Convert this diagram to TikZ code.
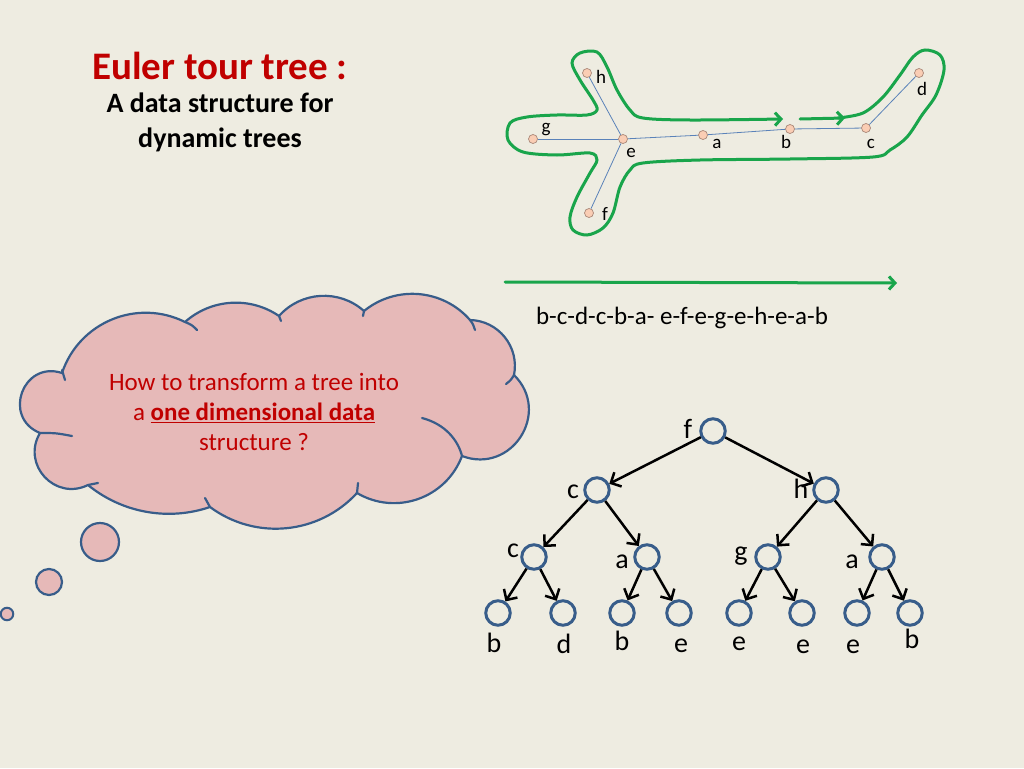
\documentclass[tikz,border=0pt]{standalone}
\usepackage{fontspec}
\setmainfont{Carlito}
\usetikzlibrary{arrows.meta, positioning, calc}
\definecolor{slidebg}{RGB}{238,236,225}
\definecolor{titlered}{RGB}{192,0,0}
\definecolor{tourgreen}{RGB}{25,165,75}
\definecolor{vertexfill}{RGB}{250,205,180}
\definecolor{vertexline}{RGB}{170,135,120}
\definecolor{edgeblue}{RGB}{90,130,185}
\definecolor{cloudpink}{RGB}{230,185,184}
\definecolor{darkblue}{RGB}{56,93,138}
\tikzstyle{vertex} = [circle, draw=vertexline, fill=vertexfill, minimum size=9pt, inner sep=0pt, line width=0.7pt]
\tikzstyle{vlbl} = [inner sep=0pt, anchor=base, font=\fontsize{19}{22}\selectfont]
\tikzstyle{treeedge} = [draw=edgeblue, line width=0.8pt]
\tikzstyle{tour} = [draw=tourgreen, line width=3pt, line cap=round, -{Straight Barb[length=6pt, width=13pt]}]
\tikzstyle{tnode} = [circle, draw=darkblue, fill=slidebg, line width=3pt, minimum size=24.5pt, inner sep=0pt]
\tikzstyle{tlbl} = [inner sep=0pt, anchor=base, font=\fontsize{28}{32}\selectfont]
\tikzstyle{arrow} = [-{Straight Barb[length=8pt, width=16pt]}, line width=2.5pt]
\tikzstyle{cloudline} = [draw=darkblue, line width=2.2pt, line cap=round, line join=round]
\tikzstyle{bubble} = [circle, draw=darkblue, fill=cloudpink, line width=2.2pt, inner sep=0pt]
% one bulge of the cloud: from, to, arc angle
\newcommand{\puff}[3]{.. controls ($#1!{0.6667*tan(#3/4)/sin(#3/2)}!#3/2:#2$) and ($#2!{0.6667*tan(#3/4)/sin(#3/2)}!-#3/2:#1$) .. #2}

\begin{document}
\begin{tikzpicture}[x=1pt, y=-1pt]
  \fill[slidebg] (0,0) rectangle (1024,768);
  \useasboundingbox (0,0) rectangle (1024,768);

  % title
  \node[text=titlered, font=\fontsize{39}{44}\selectfont\bfseries] (title) at (220,66) {Euler tour tree :};
  \node[align=center, font=\fontsize{28}{35}\selectfont\bfseries] (subtitle) at (220,122) {A data structure for\\dynamic trees};

  % small tree
  \node[vertex] (e) at (623,139) {};
  \node[vertex] (h) at (587,73) {};
  \node[vertex] (g) at (533,139) {};
  \node[vertex] (f) at (589,213) {};
  \node[vertex] (a) at (703,135) {};
  \node[vertex] (b) at (790,129) {};
  \node[vertex] (c) at (866,128) {};
  \node[vertex] (d) at (919,73) {};
  \draw[treeedge] (e) -- (h);
  \draw[treeedge] (e) -- (g);
  \draw[treeedge] (e) -- (f);
  \draw[treeedge] (e) -- (a);
  \draw[treeedge] (a) -- (b);
  \draw[treeedge] (b) -- (c);
  \draw[treeedge] (c) -- (d);
  \node[vlbl] (hlbl) at (601,83) {h};
  \node[vlbl] (glbl) at (546,132) {g};
  \node[vlbl] (elbl) at (631,157) {e};
  \node[vlbl] (albl) at (717,148) {a};
  \node[vlbl] (blbl) at (786,148) {b};
  \node[vlbl] (clbl) at (871,148) {c};
  \node[vlbl] (dlbl) at (922,95) {d};
  \node[vlbl] (flbl) at (605,220) {f};

  % euler tour around it
  \draw[tour] (800,119) -- (845,118);
  \draw[tour] plot[smooth, tension=0.55] coordinates {(838,118) (863,113) (883,97) (900,75) (913,57)
    (925,50) (940,55) (944,70) (936,95) (922,115) (907,137) (890,150) (873,157) (790,159) (700,160)
    (643,163) (630,170) (620,187) (613,213) (603,228) (587,235) (573,230) (570,217) (577,197)
    (590,173) (597,160) (590,153) (557,155) (523,152) (508,140) (510,123) (527,117) (557,115)
    (587,115) (597,110) (593,100) (580,80) (572,63) (580,53) (597,52) (607,67) (617,90) (630,110)
    (643,118) (690,120) (783,119)};

  \coordinate (seqstart) at (505,282);
  \coordinate (seqend) at (897,283);
  \draw[tour] (seqstart) -- (seqend);
  \node[font=\fontsize{25}{30}\selectfont] (seq) at (682,318) {b-c-d-c-b-a- e-f-e-g-e-h-e-a-b};

  % thought cloud
  \filldraw[cloudline, fill=cloudpink] (62,373) \puff{(62,373)}{(185,322)}{98}
    \puff{(185,322)}{(279,316)}{76} \puff{(279,316)}{(364,311)}{90}
    \puff{(364,311)}{(470,320)}{88} \puff{(470,320)}{(514,375)}{100}
    \puff{(514,375)}{(462,456)}{156} \puff{(462,456)}{(357,493)}{100}
    \puff{(357,493)}{(210,507)}{84} \puff{(210,507)}{(88,485)}{58}
    \puff{(88,485)}{(40,433)}{147} \puff{(40,433)}{(62,373)}{176} -- cycle;
  \draw[cloudline] (65,380) -- (62,370);
  \draw[cloudline] (185,322) .. controls (192,325) .. (197,330);
  \draw[cloudline] (279,316) -- (281,321);
  \draw[cloudline] (364,311) -- (363,316);
  \draw[cloudline] (470,320) .. controls (473,324) .. (475,330);
  \draw[cloudline] (514,375) .. controls (511,380) .. (506,384);
  \draw[cloudline] (422,418) .. controls (445,424) and (458,440) .. (462,456);
  \draw[cloudline] (357,493) .. controls (357,488) .. (358,483);
  \draw[cloudline] (210,507) .. controls (207,503) .. (205,498);
  \draw[cloudline] (88,485) .. controls (93,484) .. (98,483);
  \draw[cloudline] (40,433) .. controls (56,433) .. (72,436);
  \node[align=center, text=titlered, font=\fontsize{25}{30}\selectfont] (question) at (254,412)
    {How to transform a tree into\\a \textbf{\underline{one dimensional data}}\\structure ?};
  \node[bubble, minimum size=38pt] (bub1) at (100,542) {};
  \node[bubble, minimum size=26pt] (bub2) at (49,582) {};
  \node[bubble, minimum size=12.5pt, line width=2pt] (bub3) at (7,614) {};

  % balanced tree of the tour
  \node[tnode] (r) at (713,431) {};
  \node[tnode] (l) at (597,490) {};
  \node[tnode] (rr) at (826,490) {};
  \node[tnode] (ll) at (534,557) {};
  \node[tnode] (lr) at (647,557) {};
  \node[tnode] (rl) at (768,557) {};
  \node[tnode] (rrr) at (882,557) {};
  \node[tnode] (n1) at (498,613) {};
  \node[tnode] (n2) at (563,613) {};
  \node[tnode] (n3) at (622,613) {};
  \node[tnode] (n4) at (679,613) {};
  \node[tnode] (n5) at (739,613) {};
  \node[tnode] (n6) at (802,613) {};
  \node[tnode] (n7) at (857,613) {};
  \node[tnode] (n8) at (910,613) {};
  \draw[arrow] (r) -- (l);
  \draw[arrow] (r) -- (rr);
  \draw[arrow] (l) -- (ll);
  \draw[arrow] (l) -- (lr);
  \draw[arrow] (rr) -- (rl);
  \draw[arrow] (rr) -- (rrr);
  \draw[arrow] (ll) -- (n1);
  \draw[arrow] (ll) -- (n2);
  \draw[arrow] (lr) -- (n3);
  \draw[arrow] (lr) -- (n4);
  \draw[arrow] (rl) -- (n5);
  \draw[arrow] (rl) -- (n6);
  \draw[arrow] (rrr) -- (n7);
  \draw[arrow] (rrr) -- (n8);
  \node[tlbl] (rlbl) at (688,438) {f};
  \node[tlbl] (llbl) at (573,498) {c};
  \node[tlbl] (rrlbl) at (801,498) {h};
  \node[tlbl] (lllbl) at (513,557) {c};
  \node[tlbl] (lrlbl) at (622,568) {a};
  \node[tlbl] (rllbl) at (741,560) {g};
  \node[tlbl] (rrrlbl) at (852,568) {a};
  \node[tlbl] (n1lbl) at (494,652) {b};
  \node[tlbl] (n2lbl) at (564,653) {d};
  \node[tlbl] (n3lbl) at (622,650) {b};
  \node[tlbl] (n4lbl) at (681,652) {e};
  \node[tlbl] (n5lbl) at (739,650) {e};
  \node[tlbl] (n6lbl) at (803,653) {e};
  \node[tlbl] (n7lbl) at (853,653) {e};
  \node[tlbl] (n8lbl) at (912,648) {b};
\end{tikzpicture}
\end{document}
